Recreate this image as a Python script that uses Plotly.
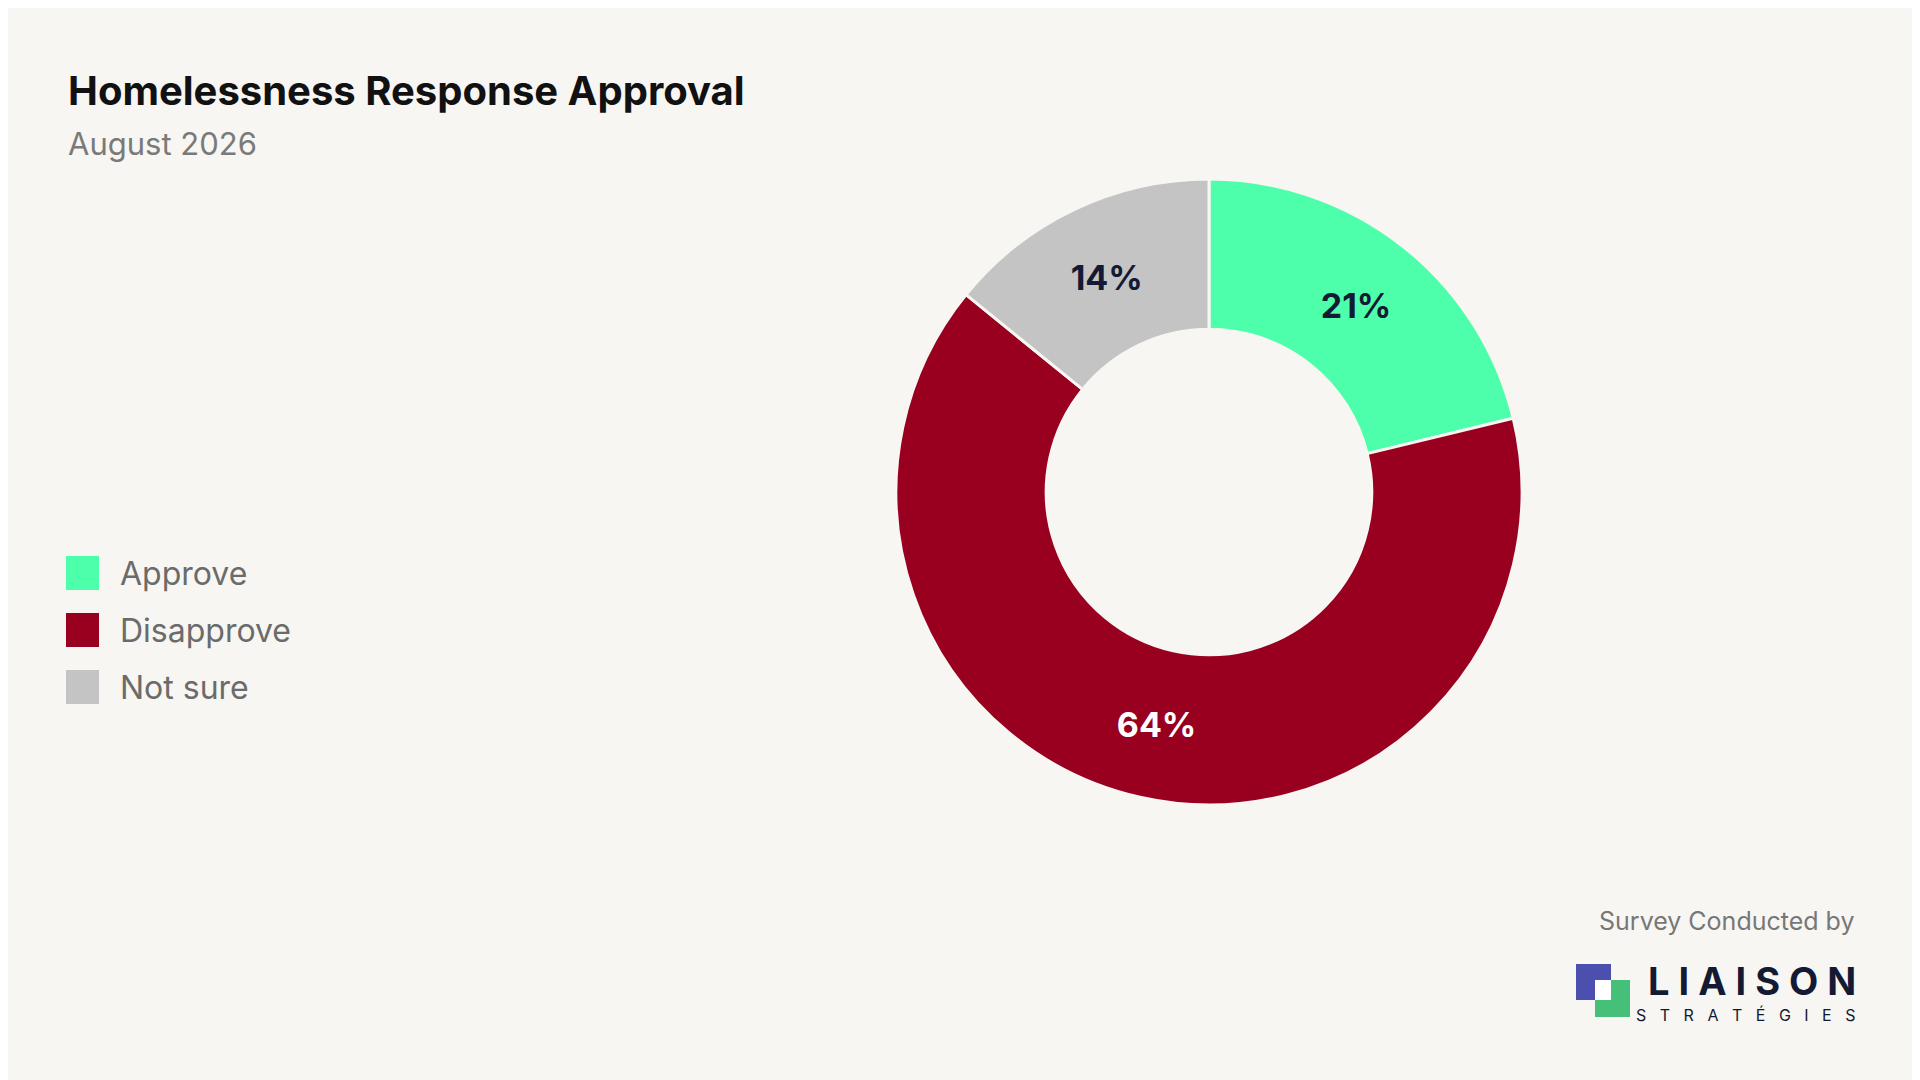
import plotly.graph_objects as go

# dados
labels = ["Approve", "Disapprove", "Not sure"]
values = [21, 64, 14]
colors = ["#4dffaa", "#990020", "#c4c4c4"]
text_colors = ["#141a33", "#ffffff", "#141a33"]

W, H = 1920, 1080
FONT = "Inter"

fig = go.Figure(go.Pie(
    labels=labels, values=values, hole=0.52, sort=False,
    direction="clockwise", rotation=0,
    marker=dict(colors=colors, line=dict(color="#f7f6f2", width=3)),
    texttemplate="%{value}%", textposition="inside",
    insidetextorientation="horizontal",
    textfont=dict(family=FONT, size=34, color=text_colors, weight=700),
    domain=dict(x=[888 / W, 1514 / W], y=[1 - 797 / H, 1 - 171 / H]),
    showlegend=False,
))

def px(x, y):
    return x / W, 1 - y / H

# titulo
x, y = px(58, 82)
fig.add_annotation(x=x, y=y, text="<b>Homelessness Response Approval</b>", showarrow=False,
                   xanchor="left", yanchor="middle", font=dict(family=FONT, size=40, color="#111111"))
x, y = px(58, 135)
fig.add_annotation(x=x, y=y, text="August 2026", showarrow=False,
                   xanchor="left", yanchor="middle", font=dict(family=FONT, size=31, color="#7a7a7a"))

# legenda manual
for i, (lab, col) in enumerate(zip(labels, colors)):
    cy = 565 + i * 57
    fig.add_shape(type="rect", xref="paper", yref="paper",
                  x0=58 / W, x1=91 / W, y0=1 - (cy + 17) / H, y1=1 - (cy - 17) / H,
                  fillcolor=col, line=dict(width=0))
    x, y = px(110, cy)
    fig.add_annotation(x=x, y=y, text=lab, showarrow=False, xanchor="left", yanchor="middle",
                       font=dict(family=FONT, size=32, color="#6b6b6b"))

# rodape / logo
x, y = px(1848, 913)
fig.add_annotation(x=x, y=y, text="Survey Conducted by", showarrow=False, xanchor="right", yanchor="middle",
                   font=dict(family=FONT, size=25, color="#777777"))
for (x0, y0, x1, y1, c) in [(1568, 956, 1603, 992, "#4b4fae"), (1587, 972, 1622, 1009, "#46bf78"),
                            (1587, 972, 1603, 992, "#ffffff")]:
    fig.add_shape(type="rect", xref="paper", yref="paper", x0=x0 / W, x1=x1 / W,
                  y0=1 - y1 / H, y1=1 - y0 / H, fillcolor=c, line=dict(width=0))
x, y = px(1850, 973)
fig.add_annotation(x=x, y=y, text="<b>L I A I S O N</b>", showarrow=False, xanchor="right", yanchor="middle",
                   font=dict(family=FONT, size=38, color="#141a33"))
x, y = px(1850, 1007)
fig.add_annotation(x=x, y=y, text="S   T   R   A   T   É   G   I   E   S", showarrow=False, xanchor="right",
                   yanchor="middle", font=dict(family=FONT, size=16, color="#141a33"))

fig.update_layout(width=W, height=H, margin=dict(l=0, r=0, t=0, b=0),
                  paper_bgcolor="#f7f6f2", plot_bgcolor="#f7f6f2")

fig.write_html("out.html")
